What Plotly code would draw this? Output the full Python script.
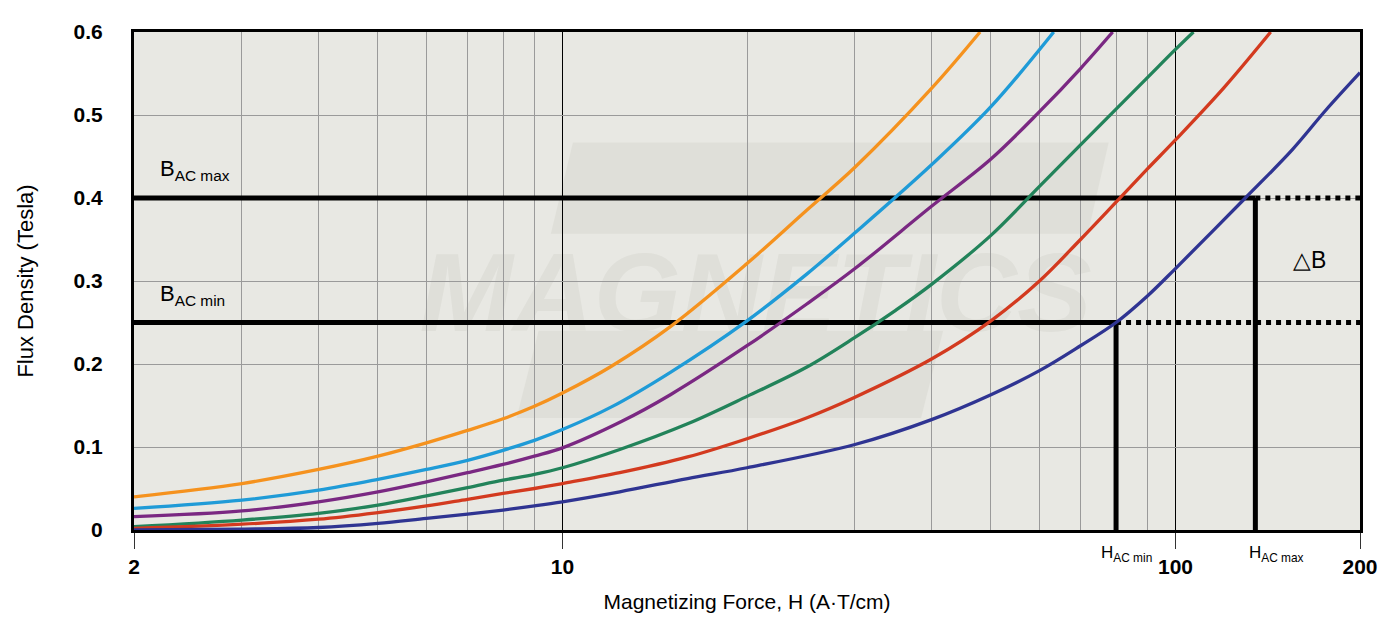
import math
import plotly.graph_objects as go

# ---------------- data ----------------
H_orange = [2, 3, 4, 5, 6, 7, 8, 9, 10, 12, 15, 20, 25, 30, 40, 48]
B_orange = [0.040, 0.056, 0.073, 0.089, 0.105, 0.120, 0.134, 0.149, 0.165, 0.197, 0.245, 0.321, 0.385, 0.437, 0.532, 0.600]

H_lblue = [2, 3, 4, 5, 6, 7, 8, 9, 10, 12, 15, 20, 25, 30, 40, 50, 63.3]
B_lblue = [0.026, 0.036, 0.048, 0.061, 0.073, 0.084, 0.096, 0.108, 0.121, 0.148, 0.190, 0.252, 0.308, 0.358, 0.440, 0.510, 0.600]

H_purple = [2, 3, 4, 5, 6, 7, 8, 9, 10, 12.5, 15, 20, 25, 30, 40, 50, 60, 70, 79]
B_purple = [0.016, 0.023, 0.034, 0.046, 0.058, 0.069, 0.079, 0.089, 0.099, 0.131, 0.163, 0.222, 0.272, 0.315, 0.390, 0.447, 0.504, 0.556, 0.600]

H_green = [2, 3, 4, 5, 6, 7, 8, 9, 10, 12.4, 16, 20, 25, 30, 35, 40, 50, 60, 70, 80, 90, 100, 107]
B_green = [0.004, 0.012, 0.020, 0.030, 0.041, 0.051, 0.060, 0.067, 0.075, 0.097, 0.128, 0.161, 0.196, 0.232, 0.265, 0.296, 0.355, 0.414, 0.464, 0.507, 0.545, 0.579, 0.600]

H_red = [2, 3, 4, 5, 6, 7, 8, 9, 10, 12.4, 16, 20, 25, 30, 40, 50, 60, 70, 80, 90, 100, 120, 143]
B_red = [0.002, 0.007, 0.013, 0.021, 0.029, 0.037, 0.044, 0.050, 0.056, 0.069, 0.088, 0.110, 0.135, 0.160, 0.206, 0.252, 0.300, 0.350, 0.395, 0.435, 0.470, 0.533, 0.600]

H_dblue = [2, 3, 4, 5, 6, 7, 8, 9, 10, 12.4, 16, 20, 30, 40, 50, 60, 70, 80, 90, 100, 130, 155, 176, 200]
B_dblue = [0.000, 0.001, 0.003, 0.008, 0.014, 0.019, 0.024, 0.029, 0.034, 0.046, 0.062, 0.075, 0.103, 0.133, 0.163, 0.192, 0.222, 0.250, 0.282, 0.315, 0.400, 0.458, 0.506, 0.551]

curves = [
    (H_orange, B_orange, "#f5921e"),
    (H_lblue, B_lblue, "#1f9bd7"),
    (H_purple, B_purple, "#7a2882"),
    (H_green, B_green, "#22835a"),
    (H_red, B_red, "#d33a1f"),
    (H_dblue, B_dblue, "#2f3492"),
]

H_MIN, H_MAX = 2, 200
B_AC_MAX = 0.40
B_AC_MIN = 0.25
H_AC_MIN = 80
H_AC_MAX = 135

x_tickvals = [2, 10, 100, 200]
x_ticktext = ["2", "10", "100", "200"]
x_minor = [3, 4, 5, 6, 7, 8, 9, 20, 30, 40, 50, 60, 70, 80, 90]
y_tickvals = [0, 0.1, 0.2, 0.3, 0.4, 0.5, 0.6]
y_ticktext = ["0", "0.1", "0.2", "0.3", "0.4", "0.5", "0.6"]

FONT = "Liberation Sans, Arial, sans-serif"

fig = go.Figure()

# reference lines (black)
BLACK_W = 5
fig.add_trace(go.Scatter(x=[H_MIN, H_AC_MAX], y=[B_AC_MAX, B_AC_MAX], mode="lines",
                         line=dict(color="black", width=BLACK_W), hoverinfo="skip"))
fig.add_trace(go.Scatter(x=[H_AC_MAX, H_MAX], y=[B_AC_MAX, B_AC_MAX], mode="lines",
                         line=dict(color="black", width=BLACK_W, dash="5px,5px"), hoverinfo="skip"))
fig.add_trace(go.Scatter(x=[H_MIN, H_AC_MIN], y=[B_AC_MIN, B_AC_MIN], mode="lines",
                         line=dict(color="black", width=BLACK_W), hoverinfo="skip"))
fig.add_trace(go.Scatter(x=[H_AC_MIN, H_MAX], y=[B_AC_MIN, B_AC_MIN], mode="lines",
                         line=dict(color="black", width=BLACK_W, dash="5px,5px"), hoverinfo="skip"))
fig.add_trace(go.Scatter(x=[H_AC_MIN, H_AC_MIN], y=[0, B_AC_MIN], mode="lines",
                         line=dict(color="black", width=BLACK_W), hoverinfo="skip"))
fig.add_trace(go.Scatter(x=[H_AC_MAX, H_AC_MAX], y=[0, B_AC_MAX], mode="lines",
                         line=dict(color="black", width=BLACK_W), hoverinfo="skip"))

for hx, by, col in curves:
    fig.add_trace(go.Scatter(x=hx, y=by, mode="lines",
                             line=dict(color=col, width=3.3, shape="spline", smoothing=1.0),
                             hoverinfo="skip"))

# watermark (below grid)
WM = "#dfdfd9"
fig.add_shape(type="path", xref="paper", yref="paper", layer="below",
              path="M 0.358 0.778 L 0.795 0.778 L 0.778 0.595 L 0.340 0.595 Z",
              fillcolor=WM, line=dict(width=0))
fig.add_shape(type="path", xref="paper", yref="paper", layer="below",
              path="M 0.330 0.400 L 0.660 0.400 L 0.642 0.225 L 0.312 0.225 Z",
              fillcolor=WM, line=dict(width=0))
fig.add_shape(type="rect", xref="paper", yref="paper", layer="below",
              x0=0.157, x1=0.857, y0=0.43, y1=0.57, fillcolor="rgba(0,0,0,0)", line=dict(width=0),
              label=dict(text="MAGNETICS", font=dict(family="Liberation Sans, Arial, sans-serif", size=112,
                                                       color=WM, weight="bold", style="italic")))

annots = []
annots.append(dict(xref="paper", yref="y", x=0.0196, y=B_AC_MAX, yshift=12, xanchor="left", yanchor="bottom",
                   text="B<sub>AC max</sub>", showarrow=False, font=dict(family=FONT, size=22, color="black")))
annots.append(dict(xref="paper", yref="y", x=0.0196, y=B_AC_MIN, yshift=12, xanchor="left", yanchor="bottom",
                   text="B<sub>AC min</sub>", showarrow=False, font=dict(family=FONT, size=22, color="black")))
annots.append(dict(xref="x", yref="paper", x=math.log10(H_AC_MIN), y=0, xshift=-17, yshift=-11,
                   xanchor="left", yanchor="top",
                   text="H<sub>AC min</sub>", showarrow=False, font=dict(family=FONT, size=17, color="black")))
annots.append(dict(xref="x", yref="paper", x=math.log10(H_AC_MAX), y=0, xshift=-8, yshift=-11,
                   xanchor="left", yanchor="top",
                   text="H<sub>AC max</sub>", showarrow=False, font=dict(family=FONT, size=17, color="black")))
annots.append(dict(xref="paper", yref="y", x=0.959, y=(B_AC_MIN + B_AC_MAX) / 2, xanchor="center", yanchor="middle",
                   text="△B", showarrow=False, font=dict(family=FONT, size=23, color="black")))

fig.update_layout(
    width=1388, height=619,
    margin=dict(l=126, r=36, t=19, b=97),
    paper_bgcolor="white", plot_bgcolor="#e8e8e3",
    showlegend=False,
    annotations=annots,
    font=dict(family=FONT, color="black"),
)
fig.update_xaxes(
    type="log", range=[math.log10(H_MIN), math.log10(H_MAX)],
    tickvals=x_tickvals, ticktext=x_ticktext,
    tickfont=dict(family=FONT, size=21, color="black", weight="bold"),
    ticks="outside", ticklen=16, tickcolor="#333", tickwidth=1.2,
    showgrid=True, gridcolor="black", gridwidth=1,
    minor=dict(tickvals=x_minor, showgrid=True, gridcolor="#9a9a9a", gridwidth=1.3, ticks=""),
    showline=True, linecolor="black", linewidth=3, mirror=True,
    zeroline=False,
    title=dict(text="Magnetizing Force, H (A·T/cm)", font=dict(family=FONT, size=21, color="black"), standoff=18),
)
fig.update_yaxes(
    range=[0, 0.6],
    tickvals=y_tickvals, ticktext=y_ticktext,
    tickfont=dict(family=FONT, size=21, color="black", weight="bold"),
    ticks="", ticklabelstandoff=24,
    showgrid=True, gridcolor="#9a9a9a", gridwidth=1.3,
    showline=True, linecolor="black", linewidth=3, mirror=True,
    zeroline=False,
    title=dict(text="Flux Density (Tesla)", font=dict(family=FONT, size=22, color="black"), standoff=34),
)

fig.write_html("out.html")
